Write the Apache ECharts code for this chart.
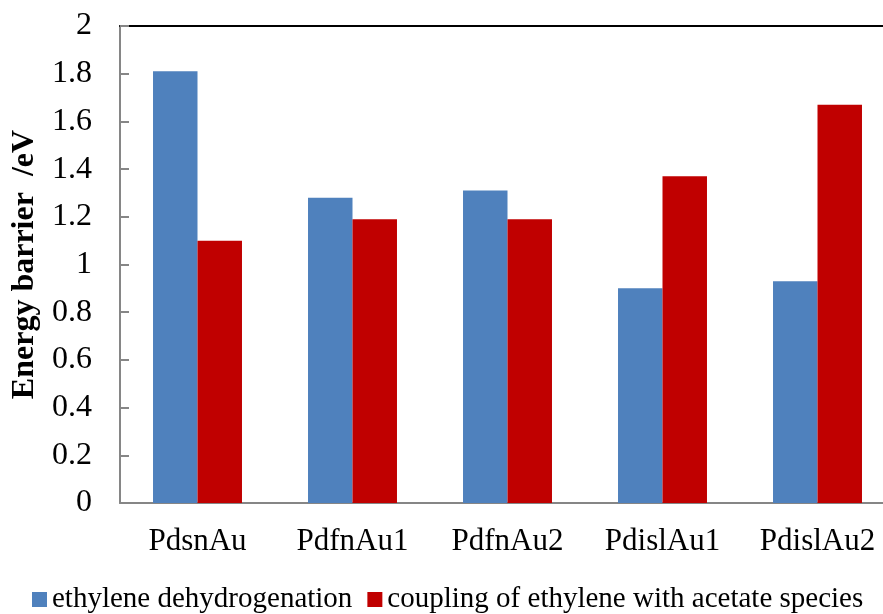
<!DOCTYPE html>
<html>
<head>
<meta charset="utf-8">
<script src="https://cdn.jsdelivr.net/npm/echarts@6/dist/echarts.min.js"></script>
<style>
  html, body { margin: 0; padding: 0; background: #fff; }
  #chart { width: 883px; height: 614px; }
</style>
</head>
<body>
<div id="chart"></div>
<script>
// Catalyst models on the category axis
const categories = ['PdsnAu', 'PdfnAu1', 'PdfnAu2', 'PdislAu1', 'PdislAu2'];
// Energy barriers (eV) for each reaction step
const dehydrogenation = [1.81, 1.28, 1.31, 0.90, 0.93];
const coupling = [1.10, 1.19, 1.19, 1.37, 1.67];
const seriesNames = ['ethylene dehydrogenation', 'coupling of ethylene with acetate species'];
const yTicks = { min: 0, max: 2, interval: 0.2 };

const FONT = '"Liberation Serif", "Times New Roman", serif';
const axisGrey = '#868686';

const chart = echarts.init(document.getElementById('chart'), null, { renderer: 'canvas' });

chart.setOption({
  backgroundColor: '#ffffff',
  animation: false,
  textStyle: { fontFamily: FONT, color: '#000' },
  // plot runs a little past the right edge of the canvas
  grid: {
    left: 120, top: 26, width: 775, bottom: 111,
    containLabel: false,
    outerBoundsMode: 'none'
  },
  legend: {
    data: seriesNames,
    left: 32,
    top: 585,
    padding: 0,
    itemWidth: 15,
    itemHeight: 15,
    itemGap: 15,
    icon: 'rect',
    textStyle: { fontFamily: FONT, fontSize: 29, color: '#000' }
  },
  xAxis: [
    {
      type: 'category',
      data: categories,
      position: 'bottom',
      axisLine: { lineStyle: { color: axisGrey, width: 2 } },
      axisTick: { show: false },
      axisLabel: { fontFamily: FONT, fontSize: 31, color: '#000', margin: 23 },
      splitLine: { show: false }
    },
    {
      type: 'category',
      data: categories,
      position: 'top',
      axisLine: { lineStyle: { color: '#000', width: 2 } },
      axisTick: { show: false },
      axisLabel: { show: false },
      splitLine: { show: false }
    }
  ],
  yAxis: {
    type: 'value',
    min: yTicks.min,
    max: yTicks.max,
    interval: yTicks.interval,
    name: 'Energy barrier  /eV',
    nameLocation: 'middle',
    nameRotate: 90,
    nameGap: 78,
    nameTextStyle: { fontFamily: FONT, fontSize: 32, fontWeight: 'bold', color: '#000' },
    axisLine: { show: true, lineStyle: { color: axisGrey, width: 2 } },
    axisTick: { show: true, inside: true, length: 9, lineStyle: { color: axisGrey, width: 2 } },
    axisLabel: {
      fontFamily: FONT, fontSize: 32, color: '#000', margin: 28,
      formatter: v => String(Math.round(v * 10) / 10)
    },
    splitLine: { show: false }
  },
  series: [
    {
      name: seriesNames[0],
      type: 'bar',
      data: dehydrogenation,
      itemStyle: { color: '#4F81BD' },
      barGap: '0%',
      barCategoryGap: '42.6%'
    },
    {
      name: seriesNames[1],
      type: 'bar',
      data: coupling,
      itemStyle: { color: '#C00000' },
      barGap: '0%',
      barCategoryGap: '42.6%'
    }
  ]
});
</script>
</body>
</html>
